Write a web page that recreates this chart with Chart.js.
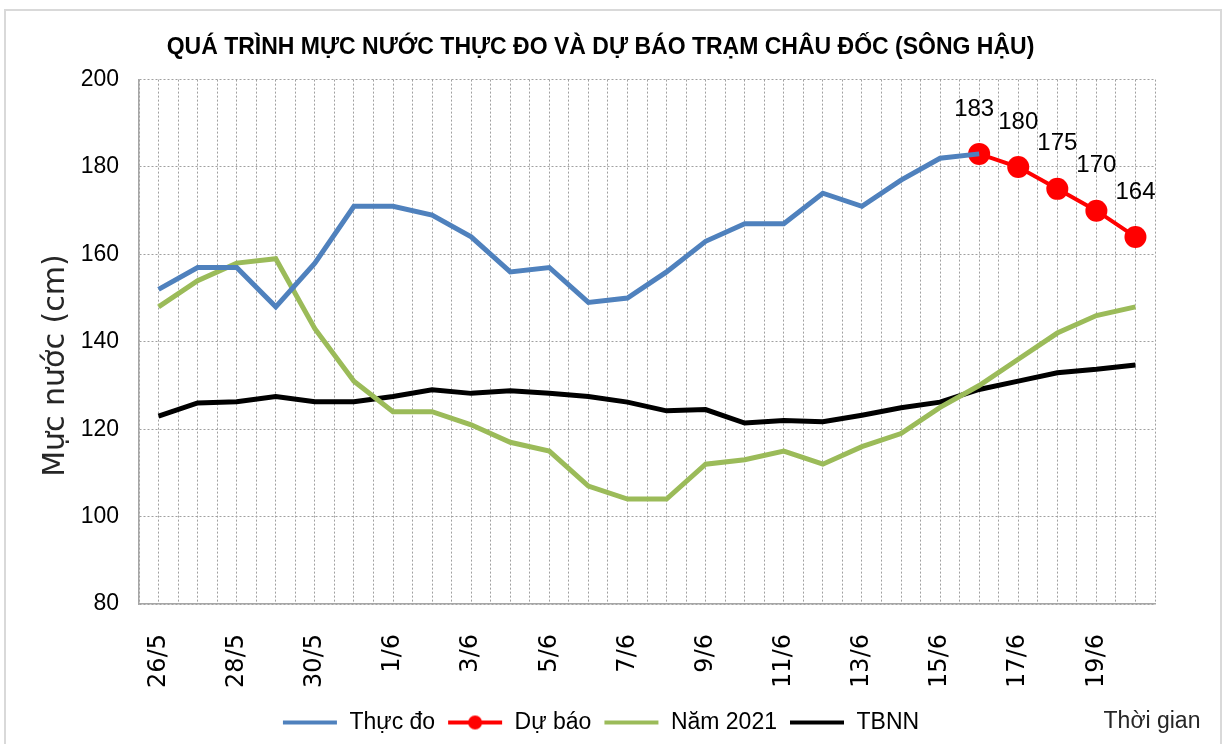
<!DOCTYPE html>
<html>
<head>
<meta charset="utf-8">
<script src="https://cdn.jsdelivr.net/npm/chart.js@4"></script>
<style>
  html, body { margin: 0; padding: 0; background: #fff; }
  #wrap { position: relative; width: 1226px; height: 744px; }
</style>
</head>
<body>
<div id="wrap"><canvas id="chart"></canvas></div>
<script>
// ngày (26/5 -> 20/6)
const days = ["26/5","27/5","28/5","29/5","30/5","31/5","1/6","2/6","3/6","4/6","5/6","6/6","7/6","8/6","9/6","10/6","11/6","12/6","13/6","14/6","15/6","16/6","17/6","18/6","19/6","20/6"];

const thucDo = [152,157,157,148,158,171,171,169,164,156,157,149,150,156,163,167,167,174,171,177,182,183,null,null,null,null];
const duBao = [null,null,null,null,null,null,null,null,null,null,null,null,null,null,null,null,null,null,null,null,null,183,180,175,170,164];
const nam2021 = [148,154,158,159,143,131,124,124,121,117,115,107,104,104,112,113,115,112,116,119,125,130,136,142,146,148];
const tbnn = [123,126,126.3,127.5,126.3,126.3,127.5,129,128.2,128.8,128.2,127.5,126.2,124.2,124.5,121.4,122,121.7,123.2,124.9,126.2,129.1,131,132.9,133.7,134.7];

const yTicks = [80,100,120,140,160,180,200];

const sans = "'Liberation Sans', Arial, sans-serif";

// small legend symbols (line, optional dot)
function legendMark(color, dot) {
  const c = document.createElement("canvas");
  c.width = 56; c.height = 20;
  const g = c.getContext("2d");
  g.strokeStyle = color; g.lineWidth = 4;
  g.beginPath(); g.moveTo(1, 10); g.lineTo(55, 10); g.stroke();
  if (dot) {
    g.fillStyle = color;
    g.beginPath(); g.arc(28, 10, 7, 0, Math.PI * 2); g.fill();
  }
  return c;
}
const marks = [legendMark("#4F81BD"), legendMark("#FF0000", true), legendMark("#9BBB59"), legendMark("#000000")];

const extras = {
  id: "extras",
  beforeDraw(chart) {
    const ctx = chart.ctx;
    ctx.save();
    ctx.strokeStyle = "#d9d9d9";
    ctx.lineWidth = 2;
    ctx.strokeRect(5, 10, 1216, 760);
    ctx.restore();
  },
  afterDatasetsDraw(chart) {
    const ctx = chart.ctx;
    const meta = chart.getDatasetMeta(1);
    ctx.save();
    ctx.font = "24px " + sans;
    ctx.fillStyle = "#000";
    ctx.textAlign = "center";
    ctx.textBaseline = "middle";
    meta.data.forEach((pt, i) => {
      if (duBao[i] == null) return;
      ctx.fillText(String(duBao[i]), pt.x - (i === 21 ? 5 : 0), pt.y - 45);
    });
    ctx.font = "23px " + sans;
    ctx.fillStyle = "#262626";
    ctx.fillText("Thời gian", 1152, 722);
    ctx.restore();
  }
};

new Chart(document.getElementById("chart"), {
  type: "line",
  data: {
    labels: days,
    datasets: [
      { label: "Thực đo", data: thucDo, borderColor: "#4F81BD", backgroundColor: "#4F81BD", borderWidth: 5, pointRadius: 0, tension: 0 },
      { label: "Dự báo", data: duBao, borderColor: "#FF0000", backgroundColor: "#FF0000", borderWidth: 4, pointRadius: 11, pointHoverRadius: 11, pointBackgroundColor: "#FF0000", pointBorderWidth: 0, tension: 0 },
      { label: "Năm 2021", data: nam2021, borderColor: "#9BBB59", backgroundColor: "#9BBB59", borderWidth: 5, pointRadius: 0, tension: 0 },
      { label: "TBNN", data: tbnn, borderColor: "#000000", backgroundColor: "#000000", borderWidth: 5, pointRadius: 0, tension: 0 }
    ]
  },
  options: {
    responsive: true,
    maintainAspectRatio: false,
    animation: false,
    layout: { padding: { left: 0, right: 25, top: 8, bottom: 0 } },
    plugins: {
      title: {
        display: true,
        text: "QUÁ TRÌNH MỰC NƯỚC THỰC ĐO VÀ DỰ BÁO TRẠM CHÂU ĐỐC (SÔNG HẬU)",
        color: "#000",
        font: { family: sans, size: 23, weight: "bold" },
        padding: { top: 26, bottom: 18 }
      },
      legend: {
        position: "bottom",
        labels: {
          usePointStyle: true,
          pointStyleWidth: 56,
          color: "#000",
          font: { family: sans, size: 23 },
          padding: 12,
          generateLabels(chart) {
            const items = Chart.defaults.plugins.legend.labels.generateLabels(chart);
            items.forEach((it, i) => { it.pointStyle = marks[i]; });
            return items;
          }
        }
      },
      tooltip: { enabled: false }
    },
    scales: {
      x: {
        offset: true,
        grid: { display: false },
        border: { display: true, color: "#a6a6a6", width: 1.5 },
        ticks: {
          autoSkip: false,
          minRotation: 90,
          maxRotation: 90,
          padding: 22,
          color: "#000",
          font: { family: "'DejaVu Sans', sans-serif", size: 24 },
          callback: (v, i) => (i % 2 === 0 ? days[i] : "")
        },
        afterFit: s => { s.height = 95; }
      },
      xg: {
        type: "linear",
        position: "bottom",
        min: 0,
        max: days.length * 2,
        ticks: { display: false, stepSize: 1, maxTicksLimit: 200 },
        grid: { color: "#a0a0a0", lineWidth: 1, drawTicks: false },
        border: { display: false, dash: [2, 2] },
        afterFit: s => { s.height = 0; }
      },
      y: {
        min: 80,
        max: 200,
        afterBuildTicks: s => { s.ticks = yTicks.map(v => ({ value: v })); },
        grid: { color: "#a0a0a0", lineWidth: 1, drawTicks: false },
        border: { display: true, color: "#a6a6a6", width: 1.5, dash: [2, 2] },
        ticks: {
          padding: 20,
          color: "#000",
          font: { family: sans, size: 23 }
        },
        title: {
          display: true,
          text: "Mực nước (cm)     ",
          color: "#262626",
          font: { family: "'DejaVu Sans', sans-serif", size: 30 },
          padding: { top: 38, bottom: 4 }
        },
        afterFit: s => { s.width = 139; }
      },
      // empty right-side spacer so the plot ends where the original does
      yr: {
        position: "right",
        grid: { display: false },
        border: { display: false },
        ticks: { display: false },
        afterFit: s => { s.width = 46; }
      }
    }
  },
  plugins: [extras]
});
</script>
</body>
</html>
